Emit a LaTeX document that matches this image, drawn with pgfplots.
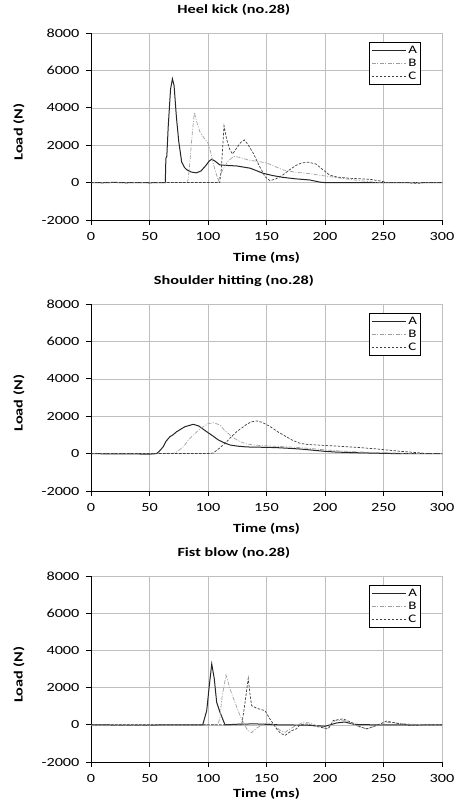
\documentclass[border=0pt]{standalone}
\usepackage{fontspec}
\setmainfont{Carlito}[FakeStretch=1.3]
\usepackage{pgfplots}
\pgfplotsset{compat=1.18}

\pgfplotsset{
  panel/.style={
    scale only axis, width=351pt, height=187pt,
    xmin=0, xmax=300, ymin=-2000, ymax=8000,
    xtick={0,50,...,300}, ytick={-2000,0,...,8000},
    scaled y ticks=false,
    /pgf/number format/1000 sep={},
    /pgf/number format/assume math mode=true,
    axis lines*=left,
    axis line style={-, black, line width=0.8pt},
    grid=major, grid style={gray!50, line width=0.5pt},
    tick align=outside, major tick length=5pt,
    tick style={black, line width=0.8pt},
    tick label style={font=\fontsize{12.5}{14}\selectfont},
    xticklabel style={yshift=-4pt},
    yticklabel style={xshift=-3pt},
    xlabel={Time (ms)}, ylabel={Load (N)},
    label style={font=\bfseries\fontsize{12.5}{14}\selectfont},
    xlabel style={at={(axis description cs:0.5,-0.2)}, anchor=center},
    ylabel style={at={(axis description cs:-0.205,0.47)}, anchor=center},
    title style={at={(axis description cs:0.407,1)}, anchor=center, yshift=17pt,
                 font=\bfseries\fontsize{12.5}{14}\selectfont},
    legend style={at={(axis description cs:0.94,0.952)}, anchor=north east,
                  draw=black, line width=0.8pt, fill=white,
                  font=\fontsize{11.5}{12}\selectfont, inner sep=1.5pt, row sep=0pt},
    legend cell align=left,
    legend image code/.code={\draw[##1] (0pt,0pt) -- (34pt,0pt);},
  },
  sA/.style={black!85, line width=1pt},
  sB/.style={gray!75, line width=0.7pt, dash pattern=on 4pt off 1.5pt on 1pt off 1.5pt},
  sC/.style={black!75, line width=0.7pt, dash pattern=on 2.5pt off 1.5pt},
}

\begin{document}
\begin{tikzpicture}
\path[use as bounding box] (0,0) rectangle (460pt,805pt);

% Heel kick
\begin{axis}[panel, at={(91pt,585pt)}, anchor=south west, title={Heel kick (no.28)}]
\addplot[sA] coordinates {(0,0) (10,-10) (20,10) (30,-10) (40,0) (50,-10) (62,0) (63.5,0) (64,1300) (64.8,1400) (66,3000) (68,5000) (69.6,5550) (71,5200) (73,3500) (75,2200) (77.5,1100) (80,800) (82,680) (86,560) (90,520) (94,620) (98,900) (101,1150) (103.2,1250) (106,1150) (110,950) (115,920) (124.5,890) (136,770) (147,500) (155,380) (164,280) (175,200) (187,140) (196,20) (200,0) (230,0) (270,0) (300,0)};
\addlegendentry{A}
\addplot[sB] coordinates {(0,0) (82.5,0) (84,700) (86.5,2600) (88.3,3750) (91,3100) (93,2720) (97,2350) (100,2100) (102,1700) (105,900) (108.8,100) (111.7,580) (117,1150) (122,1400) (127,1350) (135,1200) (144,1120) (150,1050) (164,680) (175,550) (184,500) (204,320) (220,180) (230,100) (243,20) (255,0) (300,0)};
\addlegendentry{B}
\addplot[sC] coordinates {(0,0) (110,0) (111.5,800) (113.7,3030) (116,2300) (118.8,1745) (121,1530) (124,1800) (128,2150) (131,2280) (134,2050) (138.7,1570) (143,1000) (148.7,320) (153,100) (158,200) (164,405) (170,700) (175.8,940) (180,1050) (185.7,1090) (192,1000) (198,700) (204,400) (210,300) (221,230) (238.5,175) (246,100) (252.7,10) (272,0) (274,-30) (282,-30) (284,0) (300,0)};
\addlegendentry{C}
\end{axis}

% Shoulder hitting
\begin{axis}[panel, at={(91pt,314pt)}, anchor=south west, title={Shoulder hitting (no.28)}]
\addplot[sA] coordinates {(0,0) (20,-20) (40,-20) (50,-30) (56,0) (58,100) (61.8,370) (64,650) (67.5,905) (70,1000) (73.2,1170) (80.3,1440) (87.4,1565) (92,1480) (98.9,1170) (104,950) (108.8,730) (113,600) (118.8,460) (125,400) (133,355) (145,340) (158.3,320) (170,280) (178.6,245) (190,180) (200,120) (210,80) (225,50) (245,20) (260,0) (300,0)};
\addlegendentry{A}
\addplot[sB] coordinates {(0,0) (70,0) (74,120) (78.9,370) (83,700) (87.4,995) (92,1250) (96,1440) (100,1600) (104.5,1655) (110.3,1530) (114,1250) (118.8,995) (123,800) (127.4,640) (133,520) (138.7,460) (145,430) (153,405) (165,370) (178,320) (190,260) (200,200) (210,150) (225,100) (240,60) (260,30) (285,0) (300,0)};
\addlegendentry{B}
\addplot[sC] coordinates {(0,0) (100,0) (104.5,30) (110,300) (116,640) (120,900) (124.5,1170) (133,1565) (137,1700) (141.6,1745) (146,1680) (153,1450) (160,1150) (167,900) (172,720) (178.6,550) (185,490) (193,460) (201,430) (210,405) (220,360) (230,320) (244,250) (255,180) (265,120) (275,70) (288,0) (300,0)};
\addlegendentry{C}
\end{axis}

% Fist blow
\begin{axis}[panel, height=186pt, at={(91pt,43pt)}, anchor=south west, title={Fist blow (no.28)},
  xlabel style={at={(axis description cs:0.5,-0.172)}, anchor=center}]
\addplot[sA] coordinates {(0,0) (30,-20) (60,-10) (95.5,0) (98.9,760) (101.1,2100) (103.2,3270) (105.4,2460) (107.4,1210) (110.3,670) (112,400) (114.5,0) (125,30) (140,50) (160,0) (185,-20) (200,-80) (210,100) (217,150) (225,20) (240,0) (300,0)};
\addlegendentry{A}
\addplot[sB] coordinates {(0,-20) (50,-20) (100,0) (108,0) (110,300) (112,1500) (115.4,2680) (118.8,1925) (123,1210) (127.4,490) (131.6,-50) (134,-300) (137.3,-420) (141,-200) (145,-50) (150,100) (155,50) (161.5,-300) (166,-400) (170,-225) (175,-50) (181.5,135) (187,100) (193,-50) (201.5,-225) (205,0) (208.5,220) (215.6,250) (222,100) (230,-135) (235.7,-225) (244,-50) (252.8,135) (260,100) (270,45) (287,0) (300,0)};
\addlegendentry{B}
\addplot[sC] coordinates {(0,0) (128.8,0) (131,900) (134.4,2500) (136,1600) (137.3,1030) (141.6,890) (148.7,760) (153,310) (158.7,-225) (162,-450) (165.8,-570) (171.5,-315) (175.6,-215) (178.6,0) (184,50) (192.7,-90) (199.9,-180) (203,-200) (207,230) (215.5,320) (224,90) (230,-100) (235.5,-215) (244,-35) (252.6,200) (261,90) (272.5,-35) (287,0) (300,0)};
\addlegendentry{C}
\end{axis}
\end{tikzpicture}
\end{document}
